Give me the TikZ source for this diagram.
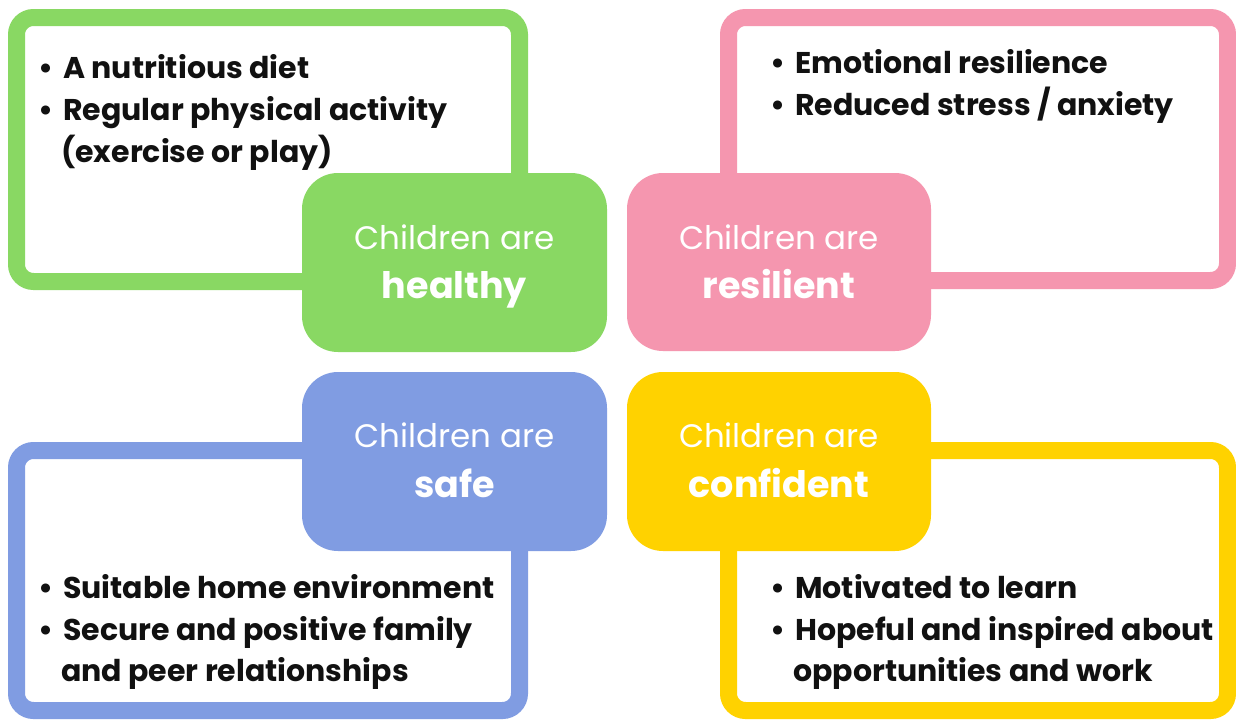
\documentclass[tikz,border=0pt]{standalone}
\usepackage{fontspec}
\setmainfont{Poppins}

\definecolor{healthgreen}{HTML}{89D863}
\definecolor{resilpink}{HTML}{F596AF}
\definecolor{safeblue}{HTML}{809CE2}
\definecolor{confyellow}{HTML}{FFD200}
\definecolor{inkblack}{HTML}{111111}

\newcommand{\bul}{\makebox[25pt][l]{\textbullet}}

\begin{document}
\begin{tikzpicture}[x=1pt,y=-1pt,
  frame/.style={draw=#1, line width=17pt, rounded corners=17pt, fill=white,
    inner sep=0pt, outer sep=0pt},
  tab/.style={fill=#1, rounded corners=36pt, inner sep=0pt, outer sep=0pt},
  item/.style={anchor=base west, inner sep=0pt, text=inkblack,
    font=\bfseries\fontsize{30}{30}\selectfont},
  lead/.style={anchor=base, inner sep=0pt, text=white,
    font=\fontsize{32.5}{32.5}\selectfont},
  key/.style={anchor=base, inner sep=0pt, text=white,
    font=\bfseries\fontsize{36.5}{36.5}\selectfont}]
\useasboundingbox (0,0) rectangle (1236,720);
\fill[white] (0,0) rectangle (1236,720);

% outlined panels
\node[frame=healthgreen, minimum width=503pt, minimum height=264pt] (fh) at (268,149.5) {};
\node[frame=resilpink, minimum width=499pt, minimum height=263pt] (fr) at (978,149) {};
\node[frame=safeblue, minimum width=503pt, minimum height=260pt] (fs) at (268,580.5) {};
\node[frame=confyellow, minimum width=499pt, minimum height=260pt] (fc) at (978,580.5) {};

% central coloured tabs
\node[tab=healthgreen, minimum width=305pt, minimum height=179pt] (th) at (454.5,262.5) {};
\node[tab=resilpink, minimum width=304pt, minimum height=178pt] (tr) at (779,262) {};
\node[tab=safeblue, minimum width=305pt, minimum height=179pt] (ts) at (454.5,461.5) {};
\node[tab=confyellow, minimum width=304pt, minimum height=179pt] (tc) at (779,461.5) {};

% tab labels
\node[lead] (lh) at (454.5,249) {Children are};
\node[key] (kh) at (454.5,298) {healthy};
\node[lead] (lr) at (779,249) {Children are};
\node[key] (kr) at (779,298) {resilient};
\node[lead] (ls) at (454.5,447) {Children are};
\node[key] (ks) at (454.5,497) {safe};
\node[lead] (lc) at (779,447) {Children are};
\node[key] (kc) at (779,497) {confident};

% bullet lists
\node[item] (h1) at (38,78) {\bul A nutritious diet};
\node[item] (h2) at (38,120) {\bul Regular physical activity};
\node[item] (h3) at (61,162) {(exercise or play)};

\node[item] (r1) at (770,73) {\bul Emotional resilience};
\node[item] (r2) at (770,115) {\bul Reduced stress / anxiety};

\node[item] (s1) at (38,598) {\bul Suitable home environment};
\node[item] (s2) at (38,640) {\bul Secure and positive family};
\node[item] (s3) at (61,681) {and peer relationships};

\node[item] (c1) at (770,598) {\bul Motivated to learn};
\node[item] (c2) at (770,640) {\bul Hopeful and inspired about};
\node[item] (c3) at (793,681) {opportunities and work};
\end{tikzpicture}
\end{document}
